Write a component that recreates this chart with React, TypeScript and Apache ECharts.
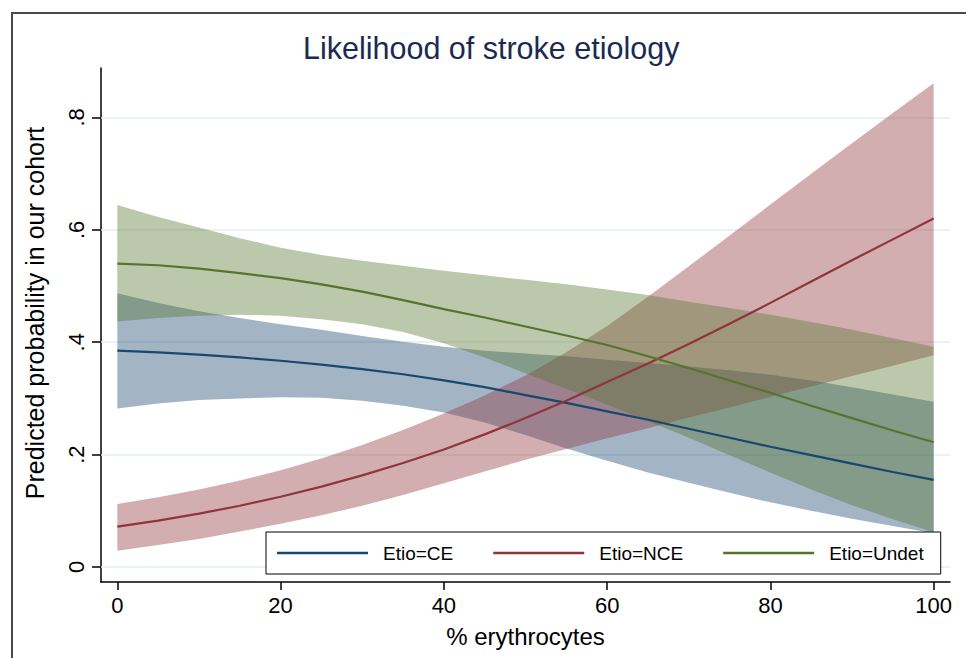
import React, { useEffect, useRef } from 'react';
import * as echarts from 'echarts';

// % erythrocytes
const X = [0, 5, 10, 15, 20, 25, 30, 35, 40, 45, 50, 55, 60, 65, 70, 75, 80, 85, 90, 95, 100];

// Etio=CE
const ceMid = [0.385, 0.382, 0.378, 0.373, 0.367, 0.360, 0.352, 0.343, 0.332, 0.320, 0.306, 0.292, 0.277, 0.262, 0.246, 0.230, 0.214, 0.199, 0.184, 0.169, 0.155];
const ceHi = [0.487, 0.470, 0.455, 0.443, 0.432, 0.422, 0.411, 0.401, 0.392, 0.385, 0.380, 0.375, 0.369, 0.363, 0.357, 0.350, 0.342, 0.332, 0.320, 0.307, 0.294];
const ceLo = [0.282, 0.291, 0.297, 0.300, 0.302, 0.301, 0.296, 0.287, 0.275, 0.257, 0.235, 0.211, 0.189, 0.168, 0.150, 0.132, 0.115, 0.100, 0.086, 0.073, 0.060];

// Etio=NCE
const nceMid = [0.072, 0.0825, 0.095, 0.109, 0.125, 0.143, 0.163, 0.185, 0.209, 0.236, 0.265, 0.296, 0.329, 0.362, 0.397, 0.433, 0.470, 0.508, 0.546, 0.583, 0.620];
const nceHi = [0.112, 0.124, 0.138, 0.154, 0.172, 0.193, 0.217, 0.244, 0.273, 0.305, 0.341, 0.382, 0.429, 0.481, 0.535, 0.590, 0.645, 0.700, 0.754, 0.808, 0.861];
const nceLo = [0.029, 0.039, 0.050, 0.063, 0.077, 0.092, 0.109, 0.128, 0.149, 0.170, 0.191, 0.210, 0.229, 0.247, 0.266, 0.284, 0.303, 0.321, 0.340, 0.358, 0.377];

// Etio=Undet
const undMid = [0.540, 0.537, 0.531, 0.523, 0.514, 0.503, 0.490, 0.475, 0.459, 0.444, 0.428, 0.412, 0.395, 0.375, 0.354, 0.332, 0.310, 0.287, 0.265, 0.243, 0.222];
const undHi = [0.644, 0.623, 0.604, 0.585, 0.568, 0.555, 0.545, 0.536, 0.527, 0.519, 0.511, 0.503, 0.494, 0.484, 0.472, 0.461, 0.449, 0.436, 0.422, 0.407, 0.392];
const undLo = [0.437, 0.443, 0.447, 0.449, 0.447, 0.441, 0.432, 0.418, 0.398, 0.373, 0.345, 0.317, 0.289, 0.260, 0.230, 0.199, 0.168, 0.138, 0.110, 0.085, 0.062];

const xTicks = [0, 20, 40, 60, 80, 100];
const yTicks = [0, 0.2, 0.4, 0.6, 0.8];
const yTickLabels = ['0', '.2', '.4', '.6', '.8'];
const seriesNames = ['Etio=CE', 'Etio=NCE', 'Etio=Undet'];

const FONT = "'Liberation Sans', Arial, Helvetica, sans-serif";
const NAVY = '#1a476f';
const MAROON = '#90353b';
const GREEN = '#55752f';

function band(name: string, lo: number[], hi: number[], fill: string, z: number) {
  return {
    type: 'custom',
    name,
    z,
    silent: true,
    data: X.map((x, i) => [x, lo[i], hi[i]]),
    encode: { x: 0, y: [1, 2] },
    renderItem: (params: any, api: any) => {
      if (params.dataIndex !== 0) return null;
      const pts: number[][] = [];
      for (let i = 0; i < X.length; i++) pts.push(api.coord([X[i], hi[i]]));
      for (let i = X.length - 1; i >= 0; i--) pts.push(api.coord([X[i], lo[i]]));
      return { type: 'polygon', shape: { points: pts }, style: { fill, stroke: 'none' } };
    },
  };
}

function line(name: string, vals: number[], color: string) {
  return {
    type: 'line',
    name,
    z: 3,
    silent: true,
    data: X.map((x, i) => [x, vals[i]]),
    symbol: 'none',
    smooth: false,
    lineStyle: { color, width: 2.2 },
    itemStyle: { color },
  };
}

export default function App() {
  const ref = useRef<HTMLDivElement>(null);
  useEffect(() => {
    const chart = echarts.init(ref.current!, null, { renderer: 'svg' });
    chart.setOption({
      animation: false,
      backgroundColor: '#fff',
      textStyle: { fontFamily: FONT },
      graphic: [
        {
          type: 'rect',
          shape: { x: 12, y: 13, width: 1000, height: 700 },
          style: { fill: 'none', stroke: '#4a4a4a', lineWidth: 2 },
          z: 0,
          silent: true,
        },
      ],
      title: {
        text: 'Likelihood of stroke etiology',
        left: 298,
        top: 27,
        textStyle: { fontFamily: FONT, fontSize: 30.5, fontWeight: 'normal', color: '#1c2a50' },
      },
      legend: {
        data: seriesNames,
        left: 266,
        top: 532,
        orient: 'horizontal',
        padding: [11, 17, 11, 11],
        itemGap: 40,
        itemWidth: 91,
        itemHeight: 2.6,
        icon: 'rect',
        backgroundColor: '#fff',
        borderColor: '#000',
        borderWidth: 1,
        borderRadius: 0,
        selectedMode: false,
        textStyle: { fontFamily: FONT, fontSize: 19, color: '#000', lineHeight: 20, padding: [0, 0, 0, 10] },
      },
      grid: { left: 101, right: 16, top: 68, bottom: 76, containLabel: false },
      xAxis: {
        type: 'value',
        min: -2,
        max: 102,
        name: '% erythrocytes',
        nameLocation: 'middle',
        nameGap: 42,
        nameTextStyle: { fontFamily: FONT, fontSize: 24, color: '#000' },
        axisLine: { show: true, onZero: false, lineStyle: { color: '#000', width: 1.5 } },
        axisTick: { show: true, customValues: xTicks, length: 8, lineStyle: { color: '#000', width: 1.5 } },
        axisLabel: { customValues: xTicks, fontFamily: FONT, fontSize: 22, color: '#000', margin: 12 },
        splitLine: { show: false },
      },
      yAxis: {
        type: 'value',
        min: -0.0267,
        max: 0.888,
        name: 'Predicted probability in our cohort',
        nameLocation: 'middle',
        nameGap: 54,
        nameTextStyle: { fontFamily: FONT, fontSize: 25, color: '#000', padding: [0, 0, 0, 24] },
        axisLine: { show: true, onZero: false, lineStyle: { color: '#000', width: 1.5 } },
        axisTick: { show: true, customValues: yTicks, length: 9, lineStyle: { color: '#000', width: 1.5 } },
        axisLabel: {
          customValues: yTicks,
          rotate: 90,
          fontFamily: FONT,
          fontSize: 22,
          color: '#000',
          margin: 14,
          formatter: (v: number) => {
            const idx = yTicks.findIndex((t) => Math.abs(t - v) < 1e-9);
            return idx >= 0 ? yTickLabels[idx] : '';
          },
        },
        splitLine: { show: false },
      },
      series: [
        {
          type: 'line',
          name: 'gridlines',
          data: [],
          z: 1,
          silent: true,
          markLine: {
            z: 1,
            silent: true,
            symbol: 'none',
            label: { show: false },
            lineStyle: { color: '#e4eef1', width: 1.5, type: 'solid' },
            data: yTicks.map((v) => ({ yAxis: v })),
          },
        },
        band('CE band', ceLo, ceHi, 'rgba(26,71,111,0.4)', 2),
        band('NCE band', nceLo, nceHi, 'rgba(144,53,59,0.4)', 2),
        band('Undet band', undLo, undHi, 'rgba(85,117,47,0.4)', 2),
        line('Etio=CE', ceMid, NAVY),
        line('Etio=NCE', nceMid, MAROON),
        line('Etio=Undet', undMid, GREEN),
      ],
    });
    return () => chart.dispose();
  }, []);
  return <div ref={ref} style={{ position: 'fixed', left: 0, top: 0, width: 966, height: 658 }} />;
}
